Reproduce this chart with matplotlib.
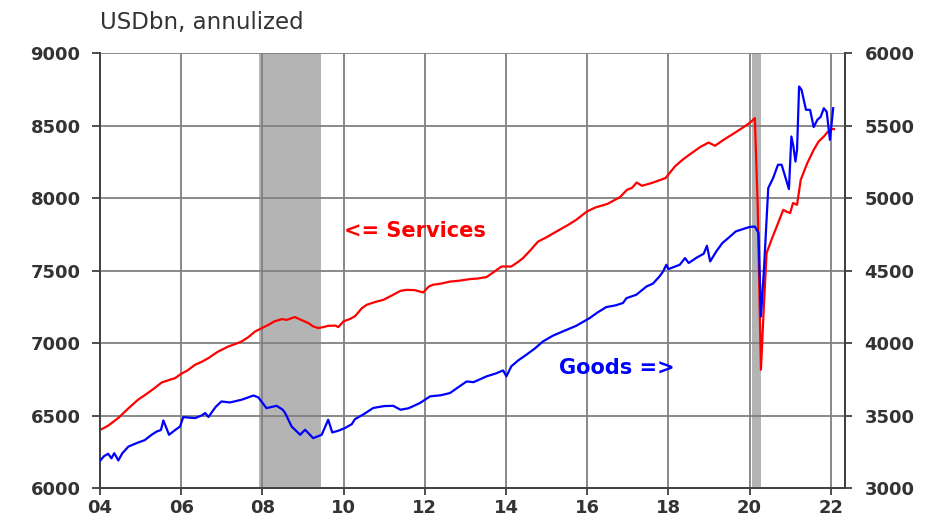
import matplotlib
matplotlib.use("Agg")
import matplotlib.pyplot as plt

# ---------------- data ----------------
services_x = [2004.0, 2004.2, 2004.45, 2004.7, 2004.94, 2005.1, 2005.3, 2005.52, 2005.7, 2005.85,
              2006.0, 2006.15, 2006.34, 2006.5, 2006.67, 2006.9, 2007.16, 2007.35, 2007.49, 2007.65,
              2007.82, 2008.0, 2008.15, 2008.3, 2008.48, 2008.6, 2008.8, 2008.95, 2009.13, 2009.25,
              2009.38, 2009.5, 2009.62, 2009.8, 2009.87, 2010.0, 2010.15, 2010.28, 2010.45, 2010.57,
              2010.8, 2010.98, 2011.2, 2011.4, 2011.55, 2011.75, 2011.96, 2012.1, 2012.2, 2012.4,
              2012.62, 2012.85, 2013.11, 2013.3, 2013.52, 2013.7, 2013.89, 2014.13, 2014.3, 2014.42,
              2014.6, 2014.79, 2015.0, 2015.24, 2015.5, 2015.73, 2015.99, 2016.2, 2016.5, 2016.81,
              2016.98, 2017.1, 2017.22, 2017.35, 2017.6, 2017.93, 2018.16, 2018.35, 2018.57, 2018.8,
              2018.99, 2019.15, 2019.35, 2019.56, 2019.8, 2019.97, 2020.05, 2020.13, 2020.2, 2020.28,
              2020.36, 2020.42, 2020.55, 2020.67, 2020.83, 2020.92, 2021.0, 2021.07, 2021.17, 2021.26,
              2021.42, 2021.58, 2021.7, 2021.83, 2021.92, 2022.0, 2022.08]
services_v = [6400, 6430, 6483, 6550, 6610, 6640, 6680, 6728, 6745, 6758,
              6788, 6810, 6850, 6870, 6896, 6940, 6976, 6995, 7011, 7040,
              7080, 7105, 7126, 7150, 7165, 7160, 7179, 7160, 7138, 7115,
              7103, 7110, 7119, 7120, 7110, 7150, 7165, 7185, 7240, 7264,
              7285, 7298, 7330, 7360, 7367, 7365, 7349, 7390, 7402, 7410,
              7424, 7430, 7441, 7445, 7455, 7490, 7528, 7528, 7560, 7586,
              7640, 7700, 7730, 7769, 7810, 7850, 7907, 7935, 7960, 8007,
              8057, 8070, 8107, 8085, 8105, 8138, 8218, 8265, 8310, 8355,
              8383, 8361, 8400, 8437, 8480, 8512, 8530, 8552, 7950, 6816,
              7300, 7621, 7720, 7804, 7919, 7905, 7897, 7966, 7954, 8126,
              8240, 8333, 8390, 8425, 8455, 8476, 8476]

goods_x = [2004.0, 2004.1, 2004.2, 2004.28, 2004.35, 2004.45, 2004.55, 2004.7, 2004.94, 2005.1,
           2005.27, 2005.4, 2005.5, 2005.56, 2005.7, 2005.85, 2005.97, 2006.05, 2006.34, 2006.5,
           2006.59, 2006.67, 2006.85, 2006.99, 2007.2, 2007.49, 2007.65, 2007.78, 2007.9, 2008.1,
           2008.35, 2008.5, 2008.56, 2008.72, 2008.93, 2009.05, 2009.25, 2009.46, 2009.62, 2009.72,
           2009.87, 2010.03, 2010.2, 2010.28, 2010.5, 2010.73, 2011.0, 2011.22, 2011.4, 2011.6,
           2011.88, 2012.13, 2012.4, 2012.62, 2012.85, 2013.03, 2013.2, 2013.52, 2013.75, 2013.93,
           2014.01, 2014.13, 2014.3, 2014.5, 2014.7, 2014.91, 2015.15, 2015.4, 2015.73, 2016.06,
           2016.25, 2016.47, 2016.7, 2016.88, 2016.97, 2017.21, 2017.46, 2017.62, 2017.78, 2017.87,
           2017.95, 2018.0, 2018.28, 2018.41, 2018.5, 2018.7, 2018.87, 2018.95, 2019.03, 2019.18,
           2019.33, 2019.5, 2019.66, 2019.99, 2020.13, 2020.22, 2020.28, 2020.35, 2020.46, 2020.58,
           2020.7, 2020.79, 2020.97, 2021.03, 2021.08, 2021.13, 2021.17, 2021.22, 2021.28, 2021.39,
           2021.49, 2021.58, 2021.67, 2021.75, 2021.83, 2021.9, 2021.98, 2022.06]
goods_v = [3188, 3220, 3236, 3205, 3240, 3190, 3240, 3286, 3314, 3330,
           3367, 3390, 3400, 3466, 3367, 3400, 3424, 3489, 3482, 3500,
           3517, 3490, 3560, 3597, 3590, 3609, 3625, 3638, 3625, 3551,
           3567, 3540, 3517, 3424, 3367, 3402, 3344, 3367, 3471, 3383,
           3395, 3413, 3440, 3475, 3510, 3552, 3565, 3567, 3540, 3550,
           3586, 3632, 3640, 3655, 3700, 3735, 3730, 3770, 3790, 3811,
           3770, 3839, 3880, 3919, 3960, 4011, 4050, 4080, 4119, 4172,
           4210, 4248, 4260, 4276, 4310, 4333, 4390, 4410, 4459, 4494,
           4540, 4510, 4540, 4586, 4552, 4590, 4616, 4671, 4563, 4632,
           4690, 4730, 4770, 4800, 4804, 4760, 4183, 4483, 5069, 5138,
           5230, 5230, 5062, 5425, 5356, 5252, 5333, 5770, 5747, 5609,
           5609, 5490, 5540, 5560, 5620, 5595, 5402, 5620]

recessions = [(2007.92, 2009.45), (2020.05, 2020.28)]
x_ticks = [2004, 2006, 2008, 2010, 2012, 2014, 2016, 2018, 2020, 2022]
x_tick_labels = ["04", "06", "08", "10", "12", "14", "16", "18", "20", "22"]
left_ticks = [6000, 6500, 7000, 7500, 8000, 8500, 9000]
right_ticks = [3000, 3500, 4000, 4500, 5000, 5500, 6000]

# ---------------- figure ----------------
plt.rcParams['font.family'] = ['DejaVu Sans']
fig = plt.figure(figsize=(9.35, 5.16), dpi=100)
ax = fig.add_axes([0.107, 0.0543, 0.7967, 0.8427])
ax2 = ax.twinx()

spine_col = '#404040'
grid_col = '#808080'
lab_col = '#333333'

for a, b in recessions:
    ax.axvspan(a, b, color='#b4b4b4', lw=0, zorder=0)

ax.set_xlim(2004, 2022.35)
ax.set_ylim(6000, 9000)
ax2.set_ylim(3000, 6000)

ax.set_xticks(x_ticks)
ax.set_xticklabels(x_tick_labels)
ax.set_yticks(left_ticks)
ax2.set_yticks(right_ticks)

ax.grid(True, color=grid_col, lw=1.3, zorder=1)
ax.set_axisbelow(False)

ax.plot(services_x, services_v, color='#ff0000', lw=1.6, zorder=3)
ax2.plot(goods_x, goods_v, color='#0000ff', lw=1.6, zorder=3)
ax2.set_zorder(ax.get_zorder() + 1)
ax2.patch.set_visible(False)

for a in (ax, ax2):
    a.spines['top'].set_visible(False)
    for s in ('left', 'right', 'bottom'):
        a.spines[s].set_color(spine_col)
        a.spines[s].set_linewidth(1.3)

ax.tick_params(axis='y', direction='out', length=6, width=1.3, color=spine_col,
               labelsize=13, labelcolor=lab_col, pad=8)
ax.tick_params(axis='x', direction='out', length=5, width=1.3, color=spine_col,
               labelsize=13, labelcolor=lab_col, pad=3)
ax2.tick_params(axis='y', direction='out', length=5, width=1.3, color=spine_col,
                labelsize=13, labelcolor=lab_col, pad=9)
for lbl in ax.get_xticklabels() + ax.get_yticklabels() + ax2.get_yticklabels():
    lbl.set_fontweight('bold')

ax.text(2010.0, 7770, "<= Services", color='#ff0000', fontsize=15, fontweight='bold',
        ha='left', va='center', zorder=4)
ax2.text(2015.3, 3830, "Goods =>", color='#0000ff', fontsize=15, fontweight='bold',
         ha='left', va='center', zorder=4)

fig.text(0.107, 0.957, "USDbn, annulized", color=lab_col, fontsize=16.5,
         ha='left', va='center')

fig.savefig("out.png", dpi=100)
